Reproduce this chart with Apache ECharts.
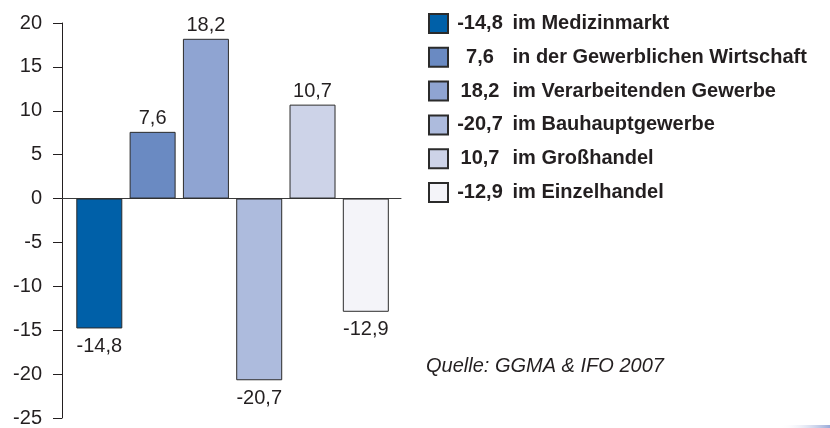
<!DOCTYPE html>
<html>
<head>
<meta charset="utf-8">
<script src="https://cdn.jsdelivr.net/npm/echarts@6/dist/echarts.min.js"></script>
<style>
html,body{margin:0;padding:0;background:#fff;}
#chart{width:830px;height:428px;}
</style>
</head>
<body>
<div id="chart"></div>
<script>
// ---- data ----
const sectors = ['im Medizinmarkt', 'in der Gewerblichen Wirtschaft', 'im Verarbeitenden Gewerbe', 'im Bauhauptgewerbe', 'im Großhandel', 'im Einzelhandel'];
const values = [-14.8, 7.6, 18.2, -20.7, 10.7, -12.9];
const yTicks = [-25, -20, -15, -10, -5, 0, 5, 10, 15, 20];
const sourceText = 'Quelle: GGMA & IFO 2007';

// ---- style ----
const colors = ['#0060a8', '#6a8ac2', '#8fa4d2', '#adbbdd', '#cdd3e8', '#f4f4f9'];
const FONT = '"Liberation Sans", Arial, Helvetica, sans-serif';
const TXT = '#231f20';
const fmt = v => String(v).replace('.', ',');

const series = sectors.map((name, i) => ({
  type: 'bar',
  name: name,
  data: [[i, values[i]]],
  barWidth: 46,
  barGap: '-100%',
  itemStyle: { color: colors[i], borderColor: '#2b2b2b', borderWidth: 1 },
  label: {
    show: true,
    position: values[i] >= 0 ? 'top' : 'bottom',
    distance: values[i] >= 0 ? 3 : 8,
    formatter: p => fmt(p.value[1]),
    fontSize: 20,
    fontFamily: FONT,
    color: TXT
  }
}));

const chart = echarts.init(document.getElementById('chart'), null, { renderer: 'canvas' });
chart.setOption({
  animation: false,
  backgroundColor: '#fff',
  title: {
    text: sourceText,
    left: 426,
    top: 356,
    padding: 0,
    textStyle: { fontStyle: 'italic', fontWeight: 'normal', fontSize: 20, fontFamily: FONT, color: TXT }
  },
  legend: {
    orient: 'vertical',
    left: 428,
    top: 13,
    padding: 0,
    itemWidth: 19,
    itemHeight: 19,
    itemGap: 12.8,
    icon: 'rect',
    data: sectors,
    formatter: name => {
      const i = sectors.indexOf(name);
      return '{v|' + fmt(values[i]) + '} ' + name;
    },
    textStyle: {
      fontSize: 20,
      fontWeight: 'bold',
      fontFamily: FONT,
      color: TXT,
      rich: {
        v: { width: 54, align: 'right', fontSize: 20, fontWeight: 'bold', fontFamily: FONT, color: TXT }
      }
    }
  },
  grid: { left: 62, top: 23, width: 339, height: 396, containLabel: false },
  xAxis: {
    type: 'value',
    min: -0.7,
    max: 5.66,
    axisLine: { show: true, onZero: true, lineStyle: { color: '#3a3a3a', width: 1 } },
    axisTick: { show: false },
    axisLabel: { show: false },
    splitLine: { show: false }
  },
  yAxis: {
    type: 'value',
    min: yTicks[0],
    max: yTicks[yTicks.length - 1],
    interval: 5,
    axisLine: { show: true, onZero: false, lineStyle: { color: '#231f20', width: 1 } },
    axisTick: { show: true, length: 9, lineStyle: { color: '#231f20' } },
    axisLabel: { fontSize: 20, fontFamily: FONT, color: TXT, margin: 20 },
    splitLine: { show: false }
  },
  graphic: [{
    type: 'rect',
    right: 0,
    bottom: 0,
    shape: { width: 50, height: 3 },
    style: {
      fill: new echarts.graphic.LinearGradient(0, 0, 1, 0, [
        { offset: 0, color: 'rgba(255,255,255,0)' },
        { offset: 1, color: '#9aaad8' }
      ])
    }
  }],
  series: series
});
</script>
</body>
</html>
